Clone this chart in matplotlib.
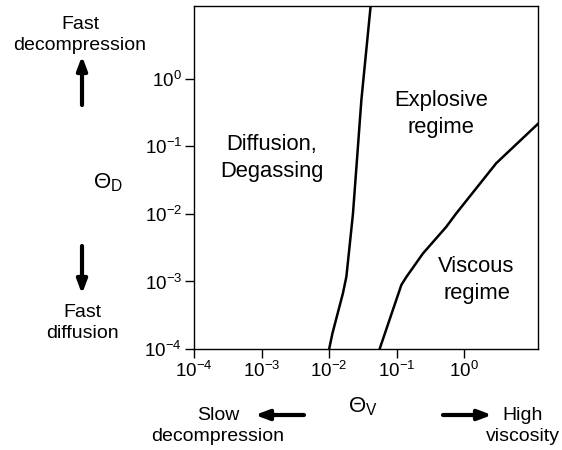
import matplotlib.pyplot as plt

plt.rcParams['font.family'] = ['Liberation Sans', 'DejaVu Sans']
plt.rcParams['mathtext.fontset'] = 'custom'
plt.rcParams['mathtext.rm'] = 'Liberation Sans'
plt.rcParams['mathtext.it'] = 'Liberation Sans'

# regime boundaries (Theta_V, Theta_D)
diff_x = [0.01, 0.0112, 0.016, 0.018, 0.0225, 0.030, 0.0411]
diff_y = [1e-4, 1.71e-4, 6.7e-4, 1.18e-3, 1e-2, 0.49, 12]
visc_x = [0.0558, 0.117, 0.139, 0.244, 0.541, 0.759, 2.96, 12.2]
visc_y = [1e-4, 8.9e-4, 1.17e-3, 2.6e-3, 6.46e-3, 1.02e-2, 0.0564, 0.215]

ticks = [1e-4, 1e-3, 1e-2, 1e-1, 1e0]
tick_labels = ['$10^{-4}$', '$10^{-3}$', '$10^{-2}$', '$10^{-1}$', '$10^{0}$']

fig = plt.figure(figsize=(5.62, 4.5), dpi=100)
ax = fig.add_axes([0.345, 0.2244, 0.612, 0.7623])

ax.plot(diff_x, diff_y, color='black', lw=1.8)
ax.plot(visc_x, visc_y, color='black', lw=1.8)

ax.set_xscale('log')
ax.set_yscale('log')
ax.set_xlim(1e-4, 12.2)
ax.set_ylim(1e-4, 12)
ax.set_xticks(ticks)
ax.set_xticklabels(tick_labels, fontsize=13.5)
ax.set_yticks(ticks)
ax.set_yticklabels(tick_labels, fontsize=13.5)
ax.minorticks_off()
ax.tick_params(length=6.5, width=1, direction='out', pad=2)
for s in ax.spines.values():
    s.set_linewidth(1)

# region labels
ax.text(10**-2.85, 10**-1.17, 'Diffusion,\nDegassing', ha='center', va='center',
        fontsize=15.8, linespacing=1.35)
ax.text(10**-0.34, 10**-0.52, 'Explosive\nregime', ha='center', va='center',
        fontsize=15.8, linespacing=1.35)
ax.text(10**0.18, 10**-2.98, 'Viscous\nregime', ha='center', va='center',
        fontsize=15.8, linespacing=1.35)

# axis names
fig.text(108 / 562, 1 - 183 / 450, r'$\Theta_{\mathrm{D}}$', ha='center', va='center',
         fontsize=16)
fig.text(363 / 562, 1 - 407 / 450, r'$\Theta_{\mathrm{V}}$', ha='center', va='center',
         fontsize=16)

# direction hints
fig.text(80 / 562, 1 - 35 / 450, 'Fast\ndecompression', ha='center', va='center',
         fontsize=14, linespacing=1.38)
fig.text(82 / 562, 1 - 323 / 450, 'Fast\ndiffusion', ha='center', va='center',
         fontsize=14, linespacing=1.38)
fig.text(218 / 562, 1 - 426 / 450, 'Slow\ndecompression', ha='center', va='center',
         fontsize=14, linespacing=1.35)
fig.text(523 / 562, 1 - 426 / 450, 'High\nviscosity', ha='center', va='center',
         fontsize=14, linespacing=1.35)

arrow = dict(arrowstyle='-|>,head_width=0.3,head_length=0.8', color='black', lw=3,
             shrinkA=0, shrinkB=0)
fig.add_artist(plt.Annotation('', xy=(82 / 562, 1 - 56 / 450), xytext=(82 / 562, 1 - 105 / 450),
                              xycoords='figure fraction', arrowprops=arrow))
fig.add_artist(plt.Annotation('', xy=(82 / 562, 1 - 294 / 450), xytext=(82 / 562, 1 - 246 / 450),
                              xycoords='figure fraction', arrowprops=arrow))
fig.add_artist(plt.Annotation('', xy=(255 / 562, 1 - 415 / 450), xytext=(304 / 562, 1 - 415 / 450),
                              xycoords='figure fraction', arrowprops=arrow))
fig.add_artist(plt.Annotation('', xy=(492 / 562, 1 - 415 / 450), xytext=(443 / 562, 1 - 415 / 450),
                              xycoords='figure fraction', arrowprops=arrow))

fig.savefig('out.png', dpi=100)
